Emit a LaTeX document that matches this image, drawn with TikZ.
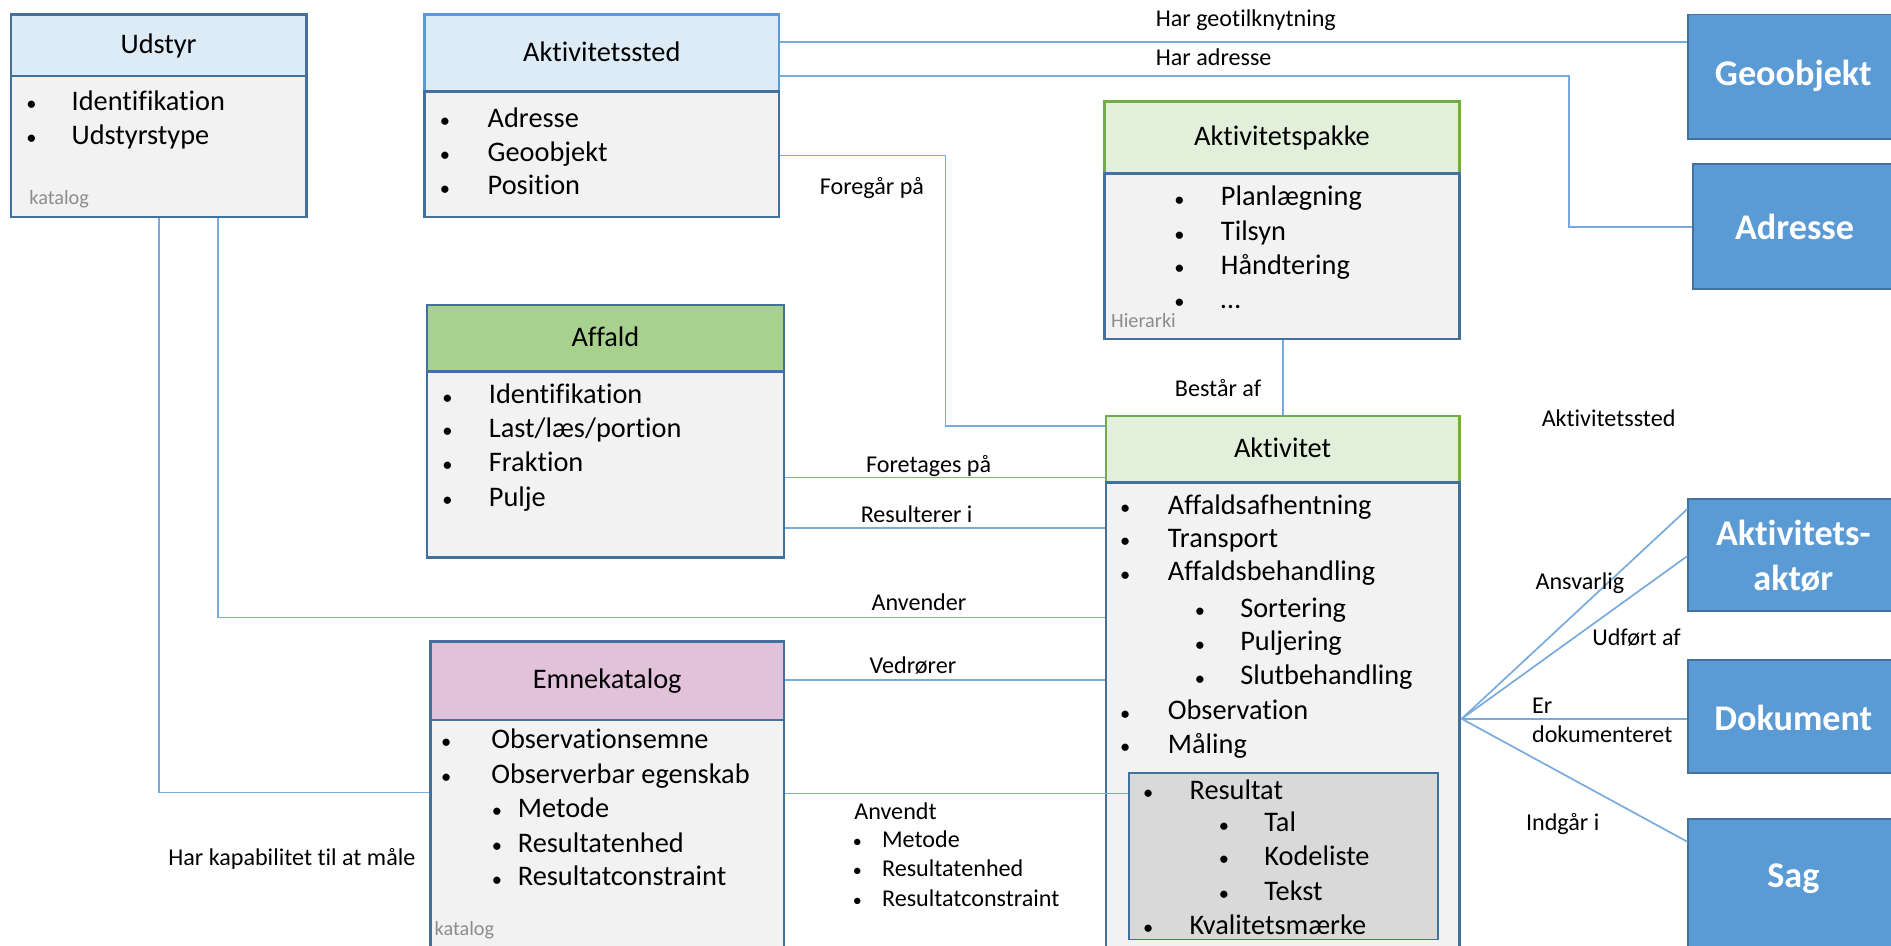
\documentclass[tikz,border=0pt]{standalone}
\usepackage{fontspec}
\setmainfont{Carlito}[Ligatures=CommonOff]
\usetikzlibrary{fit}
\definecolor{dkb}{HTML}{41719C}
\definecolor{ltb}{HTML}{5B9BD5}
\definecolor{hdrb}{HTML}{DDEBF7}
\definecolor{grn}{HTML}{70AD47}
\definecolor{hdrg}{HTML}{E2EFDA}
\definecolor{affg}{HTML}{A9D18E}
\definecolor{pinkh}{HTML}{E2C1DA}
\definecolor{bodyg}{HTML}{F2F2F2}
\definecolor{resg}{HTML}{D9D9D9}
\definecolor{conc}{HTML}{78AADD}
\definecolor{gtxt}{HTML}{8C8C8C}
\tikzset{
  frame/.style={inner sep=0pt, line width=1.1pt, draw=dkb},
  hdrblue/.style={frame, fill=hdrb},
  hdrblue2/.style={frame, fill=hdrb, draw=ltb},
  hdrgreen/.style={frame, fill=hdrg, draw=grn},
  hdraff/.style={frame, fill=affg},
  hdrpink/.style={frame, fill=pinkh},
  bodybox/.style={frame, fill=bodyg},
  resbox/.style={inner sep=0pt, line width=0.8pt, draw=dkb, fill=resg},
  bluebox/.style={inner sep=0pt, line width=0.8pt, draw=dkb, fill=ltb},
  ttl/.style={inner sep=0pt, text height=0.66em, text depth=0pt, font=\fontsize{11.75}{14}\selectfont},
  itm/.style={inner sep=0pt, anchor=west, text height=0.66em, text depth=0pt, font=\fontsize{11.75}{14}\selectfont},
  bul/.style={inner sep=0pt, text height=0.7em, text depth=0pt, font=\fontsize{8.5}{10}\selectfont},
  sitm/.style={itm, font=\fontsize{10}{12}\selectfont},
  sbul/.style={bul, font=\fontsize{7.5}{9}\selectfont},
  lbl/.style={inner sep=0pt, text height=0.66em, text depth=0pt, font=\fontsize{10}{12}\selectfont},
  lblw/.style={lbl, anchor=west},
  cat/.style={inner sep=0pt, anchor=west, text height=0.66em, text depth=0pt, text=gtxt, font=\fontsize{8.4}{10}\selectfont},
  btxt/.style={inner sep=0pt, text=white, align=center, font=\fontsize{15}{19}\selectfont\bfseries},
  conn/.style={draw=conc, line width=0.7pt},
}
\newcommand\BI[5]{\node[bul] (#1b) at (#2,#4) {•}; \node[itm] (#1) at (#3,#4) {#5};}
\newcommand\SBI[5]{\node[sbul] (#1b) at (#2,#4) {•}; \node[sitm] (#1) at (#3,#4) {#5};}
\begin{document}
\begin{tikzpicture}[x=0.5pt,y=-0.5pt]
\useasboundingbox[fill=white] (0,0) rectangle (1568,784);

% Udstyr
\node[hdrblue, fit={(9,12)(254,63)}] (udH) {};
\node[bodybox, fit={(9,63)(254,180)}] (udB) {};
\node[ttl] (udT) at (udH.center) {Udstyr};
\BI{u1}{26}{59}{85}{Identifikation}
\BI{u2}{26}{59}{113}{Udstyrstype}
\node[cat] (udK) at (24,163) {katalog};

% Aktivitetssted
\node[hdrblue2, fit={(352,12)(646,76)}] (asH) {};
\node[bodybox, fit={(352,76)(646,180)}] (asB) {};
\node[ttl] (asT) at (asH.center) {Aktivitetssted};
\BI{a1}{369}{404}{99}{Adresse}
\BI{a2}{369}{404}{127}{Geoobjekt}
\BI{a3}{369}{404}{155}{Position}

% Aktivitetspakke
\node[hdrgreen, fit={(916,84)(1210,144)}] (pkH) {};
\node[bodybox, fit={(916,144)(1210,281)}] (pkB) {};
\node[ttl] (pkT) at (pkH.center) {Aktivitetspakke};
\BI{p1}{978}{1012}{164}{Planlægning}
\BI{p2}{978}{1012}{193}{Tilsyn}
\BI{p3}{978}{1012}{221}{Håndtering}
\BI{p4}{978}{1012}{249}{…}
\node[cat] (pkK) at (921,265) {Hierarki};

% Affald
\node[hdraff, fit={(354,253)(650,308)}] (afH) {};
\node[bodybox, fit={(354,308)(650,462)}] (afB) {};
\node[ttl] (afT) at (afH.center) {Affald};
\BI{f1}{371}{405}{328}{Identifikation}
\BI{f2}{371}{405}{356}{Last/læs/portion}
\BI{f3}{371}{405}{384}{Fraktion}
\BI{f4}{371}{405}{413}{Pulje}

% Aktivitet
\node[hdrgreen, fit={(917,345)(1210,400)}] (akH) {};
\node[bodybox, fit={(917,400)(1210,810)}] (akB) {};
\node[ttl] (akT) at (akH.center) {Aktivitet};
\BI{k1}{933}{968}{420}{Affaldsafhentning}
\BI{k2}{933}{968}{447}{Transport}
\BI{k3}{933}{968}{475}{Affaldsbehandling}
\BI{k4}{995}{1028}{505}{Sortering}
\BI{k5}{995}{1028}{533}{Puljering}
\BI{k6}{995}{1028}{561}{Slutbehandling}
\BI{k7}{933}{968}{590}{Observation}
\BI{k8}{933}{968}{618}{Måling}
\node[resbox, fit={(936,641)(1192,779)}] (rsB) {};
\BI{r1}{952}{986}{656}{Resultat}
\BI{r2}{1015}{1048}{683}{Tal}
\BI{r3}{1015}{1048}{711}{Kodeliste}
\BI{r4}{1015}{1048}{740}{Tekst}
\BI{r5}{952}{986}{768}{Kvalitetsmærke}

% Emnekatalog
\node[hdrpink, fit={(357,532)(650,597)}] (emH) {};
\node[bodybox, fit={(357,597)(650,810)}] (emB) {};
\node[ttl] (emT) at (emH.center) {Emnekatalog};
\BI{e1}{370}{407}{614}{Observationsemne}
\BI{e2}{370}{407}{643}{Observerbar egenskab}
\BI{e3}{412}{429}{671}{Metode}
\BI{e4}{412}{429}{700}{Resultatenhed}
\BI{e5}{412}{429}{728}{Resultatconstraint}
\node[cat] (emK) at (360,769) {katalog};

% Blue boxes
\node[bluebox, fit={(1400,12)(1580,115)}] (geo) {};
\node[btxt] (geoT) at (1487,63) {Geoobjekt};
\node[bluebox, fit={(1404,136)(1580,240)}] (adr) {};
\node[btxt] (adrT) at (1488,188) {Adresse};
\node[bluebox, fit={(1400,414)(1580,507)}] (akt) {};
\node[btxt] (aktT) at (1487,461) {Aktivitets-\\aktør};
\node[bluebox, fit={(1400,547)(1580,641)}] (dok) {};
\node[btxt] (dokT) at (1487,595) {Dokument};
\node[bluebox, fit={(1400,679)(1580,800)}] (sag) {};
\node[btxt] (sagT) at (1487,729) {Sag};

% Connectors
\coordinate (cAdr1) at (1301,63);
\coordinate (cAdr2) at (1301,188);
\draw[conn] (asH.east |- 0,35) -- (geo.west |- 0,35);
\draw[conn] (asH.east |- 0,63) -- (cAdr1) -- (cAdr2) -- (adr.west |- 0,188);
\coordinate (cFo1) at (784,129);
\coordinate (cFo2) at (784,353);
\draw[conn] (asB.east |- 0,129) -- (cFo1) -- (cFo2) -- (akH.west |- 0,353);
\draw[conn] (pkB.south -| 1064,0) -- (akH.north -| 1064,0);
\draw[conn] (afB.east |- 0,396) -- (akH.west |- 0,396);
\draw[conn] (afB.east |- 0,438) -- (akB.west |- 0,438);
\coordinate (cAn) at (181,512);
\draw[conn] (udB.south -| 181,0) -- (cAn) -- (akB.west |- 0,512);
\coordinate (cKa) at (132,657);
\draw[conn] (udB.south -| 132,0) -- (cKa) -- (emB.west |- 0,657);
\draw[conn] (emH.east |- 0,564) -- (akB.west |- 0,564);
\draw[conn] (emB.east |- 0,658) -- (rsB.west |- 0,658);
\coordinate (fan) at (1212,596);
\draw[conn] (fan) -- (akt.west |- 0,422);
\draw[conn] (fan) -- (akt.west |- 0,461);
\draw[conn] (fan) -- (dok.west |- 0,596);
\draw[conn] (fan) -- (sag.west |- 0,698);

% Labels
\node[lblw] (l1) at (958,15) {Har geotilknytning};
\node[lblw] (l2) at (958,48) {Har adresse};
\node[lbl] (l3) at (723,155) {Foregår på};
\node[lbl] (l4) at (1010,322) {Består af};
\node[lbl] (l5) at (770,385) {Foretages på};
\node[lbl] (l6) at (760,427) {Resulterer i};
\node[lbl] (l7) at (762,500) {Anvender};
\node[lbl] (l8) at (757,552) {Vedrører};
\node[lbl] (l9) at (242,711) {Har kapabilitet til at måle};
\node[lblw] (l10) at (1278,347) {Aktivitetssted};
\node[lbl] (l11) at (1310,482) {Ansvarlig};
\node[lbl] (l12) at (1357,529) {Udført af};
\node[lblw] (l13) at (1270,585) {Er};
\node[lblw] (l14) at (1270,609) {dokumenteret};
\node[lblw] (l15) at (1265,682) {Indgår i};
\node[sitm] (l16) at (708,673) {Anvendt};
\SBI{v1}{711}{731}{696}{Metode}
\SBI{v2}{711}{731}{720}{Resultatenhed}
\SBI{v3}{711}{731}{745}{Resultatconstraint}
\end{tikzpicture}
\end{document}
